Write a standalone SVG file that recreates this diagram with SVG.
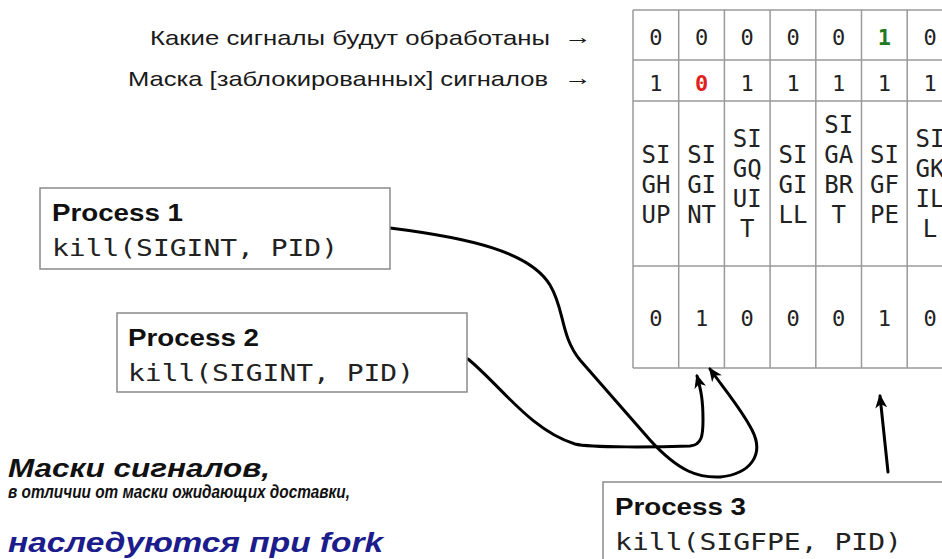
<svg xmlns="http://www.w3.org/2000/svg" width="942" height="559" viewBox="0 0 942 559">
  <defs>
    <style>
      .label { font-family: "Liberation Sans", Arial, sans-serif; font-size: 21px; fill: #1a1a1a; }
      .grid { stroke: #9a9a9a; stroke-width: 1.5; fill: none; }
      .bit { font-family: "DejaVu Sans Mono", monospace; font-size: 22px; fill: #222; text-anchor: middle; }
      .sig { font-family: "DejaVu Sans Mono", monospace; font-size: 24px; fill: #222; text-anchor: middle; }
      .box { fill: #fff; stroke: #8a8a8a; stroke-width: 1.5; }
      .title { font-family: "Liberation Sans", Arial, sans-serif; font-weight: bold; font-size: 23px; fill: #111; }
      .code { font-family: "DejaVu Sans Mono", monospace; font-size: 23px; fill: #222; }
      .wire { fill: none; stroke: #000; stroke-width: 3; stroke-linecap: round; marker-end: url(#head); }
      .note { font-family: "Liberation Sans", Arial, sans-serif; font-weight: bold; font-style: italic; fill: #111; }
    </style>
    <marker id="head" viewBox="0 0 14 12" refX="12" refY="6" markerWidth="14" markerHeight="12" markerUnits="userSpaceOnUse" orient="auto">
      <path d="M0,0 L14,6 L0,12 L4,6 z" fill="#000"/>
    </marker>
  </defs>

  <!-- row captions -->
  <g id="captions">
    <text class="label" x="150" y="45" textLength="400" lengthAdjust="spacingAndGlyphs">Какие сигналы будут обработаны</text>
    <text class="label" x="564" y="44" textLength="28" lengthAdjust="spacingAndGlyphs">→</text>
    <text class="label" x="128" y="86" textLength="420" lengthAdjust="spacingAndGlyphs">Маска [заблокированных] сигналов</text>
    <text class="label" x="564" y="85" textLength="28" lengthAdjust="spacingAndGlyphs">→</text>
  </g>

  <!-- signal table -->
  <g id="signal-table">
    <path class="grid" d="M633,10 H942 M633,60 H942 M633,101 H942 M633,266 H942 M633,368 H942
      M633,10 V368 M678.7,10 V368 M724.4,10 V368 M770.1,10 V368 M815.8,10 V368 M861.5,10 V368 M907.2,10 V368"/>
    <!-- pending -->
    <text class="bit" x="655.9" y="45">0</text>
    <text class="bit" x="701.6" y="45">0</text>
    <text class="bit" x="747.2" y="45">0</text>
    <text class="bit" x="793" y="45">0</text>
    <text class="bit" x="838.7" y="45">0</text>
    <text class="bit" x="884.4" y="45" style="fill:#1f7a1f;font-weight:bold">1</text>
    <text class="bit" x="930" y="45">0</text>
    <!-- blocked mask -->
    <text class="bit" x="655.9" y="91">1</text>
    <text class="bit" x="701.6" y="91" style="fill:#e0201c;font-weight:bold">0</text>
    <text class="bit" x="747.2" y="91">1</text>
    <text class="bit" x="793" y="91">1</text>
    <text class="bit" x="838.7" y="91">1</text>
    <text class="bit" x="884.4" y="91">1</text>
    <text class="bit" x="930" y="91">1</text>
    <!-- signal names -->
    <text class="sig"><tspan x="655.9" y="163">SI</tspan><tspan x="655.9" y="193">GH</tspan><tspan x="655.9" y="223">UP</tspan></text>
    <text class="sig"><tspan x="701.6" y="163">SI</tspan><tspan x="701.6" y="193">GI</tspan><tspan x="701.6" y="223">NT</tspan></text>
    <text class="sig"><tspan x="747.2" y="147">SI</tspan><tspan x="747.2" y="177">GQ</tspan><tspan x="747.2" y="207">UI</tspan><tspan x="747.2" y="237">T</tspan></text>
    <text class="sig"><tspan x="793" y="163">SI</tspan><tspan x="793" y="193">GI</tspan><tspan x="793" y="223">LL</tspan></text>
    <text class="sig"><tspan x="838.7" y="133">SI</tspan><tspan x="838.7" y="163">GA</tspan><tspan x="838.7" y="193">BR</tspan><tspan x="838.7" y="223">T</tspan></text>
    <text class="sig"><tspan x="884.4" y="163">SI</tspan><tspan x="884.4" y="193">GF</tspan><tspan x="884.4" y="223">PE</tspan></text>
    <text class="sig"><tspan x="930" y="147">SI</tspan><tspan x="930" y="177">GK</tspan><tspan x="930" y="207">IL</tspan><tspan x="930" y="237">L</tspan></text>
    <!-- handler flags -->
    <text class="bit" x="655.9" y="326">0</text>
    <text class="bit" x="701.6" y="326">1</text>
    <text class="bit" x="747.2" y="326">0</text>
    <text class="bit" x="793" y="326">0</text>
    <text class="bit" x="838.7" y="326">0</text>
    <text class="bit" x="884.4" y="326">1</text>
    <text class="bit" x="930" y="326">0</text>
  </g>

  <!-- connectors -->
  <g id="connectors">
    <path class="wire" d="M390,228 C470,238 530,252 550,285 C565,310 560,335 580,360 L650,440 C680,473 700,478 720,477 C750,474 765,455 752,430 C742,410 725,390 710,369"/>
    <path class="wire" d="M468,359 C500,385 530,430 575,444 C590,448 660,447 690,446 C702,445 703,435 703,420 C703,400 701,390 697,376"/>
    <path class="wire" d="M888,472 L880,396"/>
  </g>

  <g id="process-1">
    <rect class="box" x="40" y="188" width="350" height="81"/>
    <text class="title" x="52" y="221" textLength="131" lengthAdjust="spacingAndGlyphs">Process 1</text>
    <text class="code" x="52" y="256" textLength="286" lengthAdjust="spacingAndGlyphs">kill(SIGINT, PID)</text>
  </g>

  <g id="process-2">
    <rect class="box" x="117" y="313" width="350" height="79"/>
    <text class="title" x="128" y="346" textLength="131" lengthAdjust="spacingAndGlyphs">Process 2</text>
    <text class="code" x="128" y="381" textLength="286" lengthAdjust="spacingAndGlyphs">kill(SIGINT, PID)</text>
  </g>

  <g id="process-3">
    <rect class="box" x="603" y="482" width="350" height="90"/>
    <text class="title" x="615" y="515" textLength="131" lengthAdjust="spacingAndGlyphs">Process 3</text>
    <text class="code" x="615" y="550" textLength="287" lengthAdjust="spacingAndGlyphs">kill(SIGFPE, PID)</text>
  </g>

  <!-- footnote -->
  <g id="note">
    <text class="note" x="8" y="477" font-size="26" textLength="262" lengthAdjust="spacingAndGlyphs">Маски сигналов,</text>
    <text class="note" x="8" y="498" font-size="18" textLength="342" lengthAdjust="spacingAndGlyphs">в отличии от маски ожидающих доставки,</text>
    <text class="note" x="8" y="552" font-size="28" textLength="375" lengthAdjust="spacingAndGlyphs" style="fill:#1c1c8c">наследуются при fork</text>
  </g>
</svg>
